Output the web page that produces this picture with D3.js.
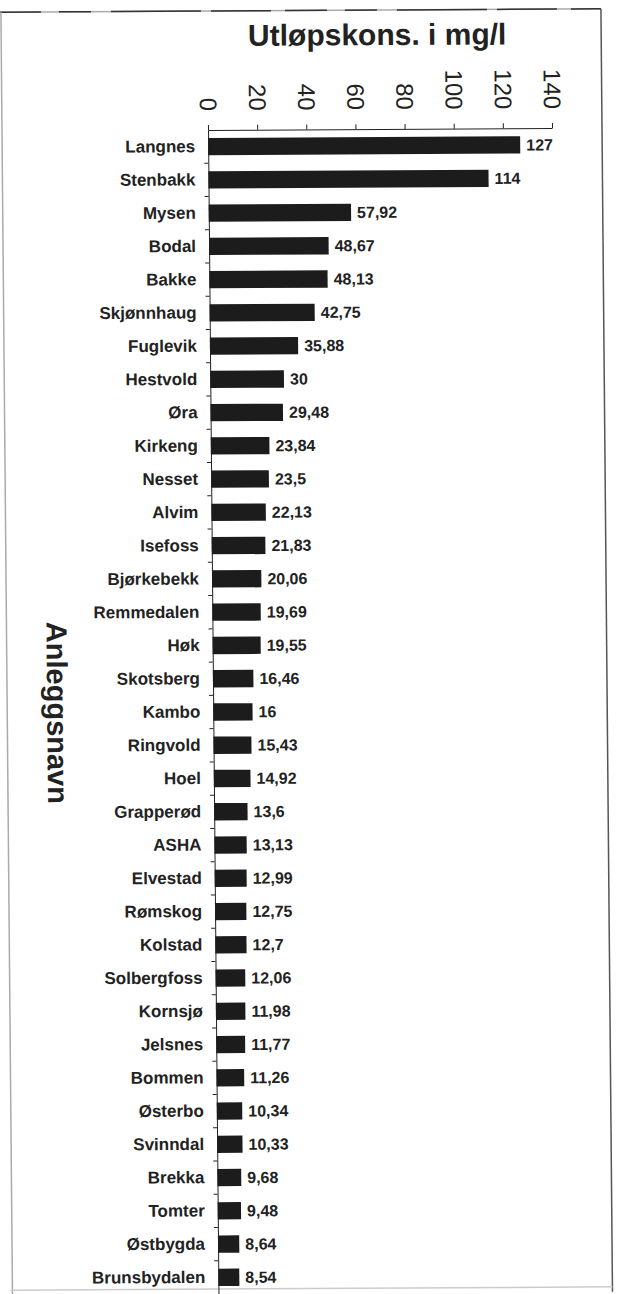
<!DOCTYPE html>
<html>
<head>
<meta charset="utf-8">
<script src="https://cdn.jsdelivr.net/npm/d3@7"></script>
<style>
  body { margin: 0; background: #fff; }
  svg { display: block; font-family: "Liberation Sans", Arial, sans-serif; }
</style>
</head>
<body>
<div id="chart"></div>
<script>
// plant names, top to bottom
var names = ["Langnes", "Stenbakk", "Mysen", "Bodal", "Bakke", "Skjønnhaug", "Fuglevik",
  "Hestvold", "Øra", "Kirkeng", "Nesset", "Alvim", "Isefoss", "Bjørkebekk", "Remmedalen",
  "Høk", "Skotsberg", "Kambo", "Ringvold", "Hoel", "Grapperød", "ASHA", "Elvestad",
  "Rømskog", "Kolstad", "Solbergfoss", "Kornsjø", "Jelsnes", "Bommen", "Østerbo",
  "Svinndal", "Brekka", "Tomter", "Østbygda", "Brunsbydalen"];

// outlet concentration in mg/l
var values = [127, 114, 57.92, 48.67, 48.13, 42.75, 35.88, 30, 29.48, 23.84, 23.5, 22.13,
  21.83, 20.06, 19.69, 19.55, 16.46, 16, 15.43, 14.92, 13.6, 13.13, 12.99, 12.75, 12.7,
  12.06, 11.98, 11.77, 11.26, 10.34, 10.33, 9.68, 9.48, 8.64, 8.54];

// x axis tick values
var xTicks = [0, 20, 40, 60, 80, 100, 120, 140];

var svgWidth = 618;
var svgHeight = 1294;

// plot edges
var plotLeft = 208;
var plotRight = 552;
var plotTop = 130;
var plotBottom = 1294;

var rows = names.map(function(n, i) { return { name: n, value: values[i] }; });

var svg = d3.select("#chart")
  .append("svg")
  .attr("width", svgWidth)
  .attr("height", svgHeight);

svg.append("rect")
  .attr("width", svgWidth)
  .attr("height", svgHeight)
  .attr("fill", "#fff");

// the scanned page is a bit skewed, so shear the whole drawing a little
var page = svg.append("g")
  .attr("transform", "matrix(1,-0.0055,0.009,1,-1.17,1.14)");

// frame of the page (top edge is a grey line with darker dashes on it)
page.append("line")
  .attr("x1", 0).attr("x2", 602).attr("y1", 11).attr("y2", 11)
  .attr("stroke", "#aaa").attr("stroke-width", 1.5);
page.append("line")
  .attr("x1", 0).attr("x2", 602).attr("y1", 11).attr("y2", 11)
  .attr("stroke", "#333").attr("stroke-width", 1.5)
  .attr("stroke-dasharray", "42,18,32,20,90,10,60,14");
page.append("line")
  .attr("x1", 602).attr("x2", 602).attr("y1", 11).attr("y2", 1294)
  .attr("stroke", "#555").attr("stroke-width", 1.5);
page.append("line")
  .attr("x1", 2).attr("x2", 2).attr("y1", 11).attr("y2", 1294)
  .attr("stroke", "#aaa").attr("stroke-width", 1.5);
page.append("line")
  .attr("x1", 0).attr("x2", 602).attr("y1", 1289).attr("y2", 1289)
  .attr("stroke", "#ccc").attr("stroke-width", 1.5);

// scales
var xScale = d3.scaleLinear()
  .domain([0, 140])
  .range([plotLeft, plotRight]);

var yScale = d3.scaleBand()
  .domain(names)
  .range([plotTop, plotBottom])
  .paddingInner(0.48)
  .paddingOuter(0.24);

// title
page.append("text")
  .attr("x", 378)
  .attr("y", 46)
  .attr("text-anchor", "middle")
  .attr("font-size", 30)
  .attr("font-weight", "bold")
  .attr("fill", "#222")
  .text("Utløpskons. i mg/l");

// top axis with rotated labels
var topAxis = d3.axisTop(xScale)
  .tickValues(xTicks)
  .tickSize(5)
  .tickSizeOuter(0);

var xAxis = page.append("g")
  .attr("transform", `translate(0, ${plotTop})`)
  .call(topAxis);

xAxis.selectAll("path, line").attr("stroke", "#222");
xAxis.selectAll("text")
  .attr("x", 0)
  .attr("y", 0)
  .attr("dy", "0.35em")
  .attr("transform", "translate(0, -19) rotate(90)")
  .attr("text-anchor", "end")
  .attr("font-size", 24)
  .attr("font-family", "\"Liberation Sans\", Arial, sans-serif")
  .attr("fill", "#222");

// left axis, labels only (ticks go between the rows)
var leftAxis = d3.axisLeft(yScale)
  .tickSize(0)
  .tickPadding(13);

var yAxis = page.append("g")
  .attr("transform", `translate(${plotLeft}, 0)`)
  .call(leftAxis);

yAxis.select("path").attr("stroke", "#222");
yAxis.selectAll("text")
  .attr("font-size", 17)
  .attr("font-weight", "bold")
  .attr("font-family", "\"Liberation Sans\", Arial, sans-serif")
  .attr("fill", "#222");

// small ticks between categories
var gap = yScale.step() * yScale.paddingInner() / 2;
page.selectAll("line.rowTick")
  .data(names.slice(1))
  .enter()
  .append("line")
  .attr("class", "rowTick")
  .attr("x1", plotLeft - 4)
  .attr("x2", plotLeft)
  .attr("y1", d => yScale(d) - gap)
  .attr("y2", d => yScale(d) - gap)
  .attr("stroke", "#222");

// bars
page.selectAll("rect.bar")
  .data(rows)
  .enter()
  .append("rect")
  .attr("class", "bar")
  .attr("x", xScale(0))
  .attr("y", d => yScale(d.name))
  .attr("width", d => xScale(d.value) - xScale(0))
  .attr("height", yScale.bandwidth())
  .attr("fill", "#1c1c1c");

// value labels
page.selectAll("text.valueText")
  .data(rows)
  .enter()
  .append("text")
  .attr("class", "valueText")
  .attr("x", d => xScale(d.value) + 6)
  .attr("y", d => yScale(d.name) + yScale.bandwidth() / 2)
  .attr("dy", "0.35em")
  .attr("font-size", 16)
  .attr("font-weight", "bold")
  .attr("fill", "#222")
  .text(d => String(d.value).replace(".", ","));

// y axis title
page.append("text")
  .attr("transform", "translate(42, 712) rotate(90)")
  .attr("text-anchor", "middle")
  .attr("font-size", 29)
  .attr("font-weight", "bold")
  .attr("fill", "#222")
  .text("Anleggsnavn");
</script>
</body>
</html>
